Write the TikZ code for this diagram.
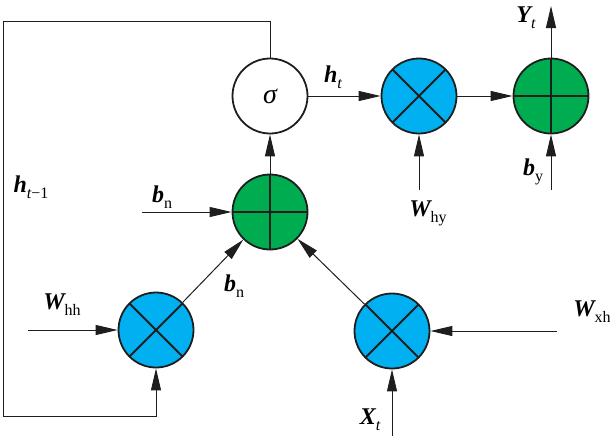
\documentclass[tikz,border=0pt]{standalone}
\usepackage{fontspec}
\setmainfont{Liberation Serif}
\usetikzlibrary{arrows.meta,calc}
\definecolor{xblue}{RGB}{0,176,240}
\definecolor{pgreen}{RGB}{0,172,80}
\definecolor{ink}{RGB}{30,30,30}
\newcommand\bv[1]{{\bfseries\itshape #1}}
\newcommand\sbs[1]{\raisebox{-6pt}{\fontsize{16}{16}\selectfont #1}}
\begin{document}
\begin{tikzpicture}[x=1pt,y=-1pt,
  op/.style={circle,draw=ink,line width=1.8pt,minimum size=75pt,inner sep=0pt,font=\fontsize{28}{30}\selectfont},
  mul/.style={op,fill=xblue,path picture={\draw[ink,line width=1.8pt]
      (path picture bounding box.north west) -- (path picture bounding box.south east)
      (path picture bounding box.north east) -- (path picture bounding box.south west);}},
  add/.style={op,fill=pgreen,path picture={\draw[ink,line width=1.3pt]
      (path picture bounding box.north) -- (path picture bounding box.south)
      (path picture bounding box.west) -- (path picture bounding box.east);}},
  conn/.style={line width=1pt,draw=ink,-{Triangle[length=22pt,width=10pt]}},
  lab/.style={inner sep=0pt,font=\fontsize{24}{26}\selectfont}]
\useasboundingbox (0,0) rectangle (610,445);
% operator nodes
\node[op] (sig) at (270,96) {\itshape σ};
\node[mul] (mx1) at (419,96) {};
\node[add] (ad2) at (551,96) {};
\node[add] (ad1) at (270,212) {};
\node[mul] (mxL) at (156,330) {};
\node[mul] (mxR) at (392,331) {};
% free ends
\coordinate (yt) at (551,6);
\coordinate (bnin) at (142,212);
\coordinate (whh) at (28,330);
\coordinate (wxh) at (557,331);
\coordinate (xt) at (392,436);
\coordinate (why) at (419,190);
\coordinate (byin) at (551,190);
\coordinate (lt) at (3,21);
\coordinate (lb) at (3,416);
% connectors
\draw[conn] (sig) -- (mx1);
\draw[conn] (mx1) -- (ad2);
\draw[conn] (ad2) -- (yt);
\draw[conn] (ad1) -- (sig);
\draw[conn] (bnin) -- (ad1);
\draw[conn] (mxL) -- (ad1);
\draw[conn] (mxR) -- (ad1);
\draw[conn] (whh) -- (mxL);
\draw[conn] (wxh) -- (mxR);
\draw[conn] (xt) -- (mxR);
\draw[conn] (why) -- (mx1);
\draw[conn] (byin) -- (ad2);
\draw[conn] (sig.north) |- (lt) -- (lb) -| (mxL.south);
% labels
\node[lab] (lht) at (333,77) {\bv{h}\sbs{\itshape t}};
\node[lab] (lyt) at (526,18) {\bv{Y}\sbs{\itshape t}};
\node[lab] (lhm) at (31,187) {\bv{h}\sbs{\itshape t\upshape −1}};
\node[lab] (lbn1) at (162,197) {\bv{b}\sbs{n}};
\node[lab] (lbn2) at (234,286) {\bv{b}\sbs{n}};
\node[lab] (lwhh) at (62,305) {\bv{W}\sbs{hh}};
\node[lab] (lwxh) at (592,312) {\bv{W}\sbs{xh}};
\node[lab] (lwhy) at (428,213) {\bv{W}\sbs{hy}};
\node[lab] (lby) at (533,172) {\bv{b}\sbs{y}};
\node[lab] (lxt) at (370,420) {\bv{X}\sbs{\itshape t}};
\end{tikzpicture}
\end{document}
